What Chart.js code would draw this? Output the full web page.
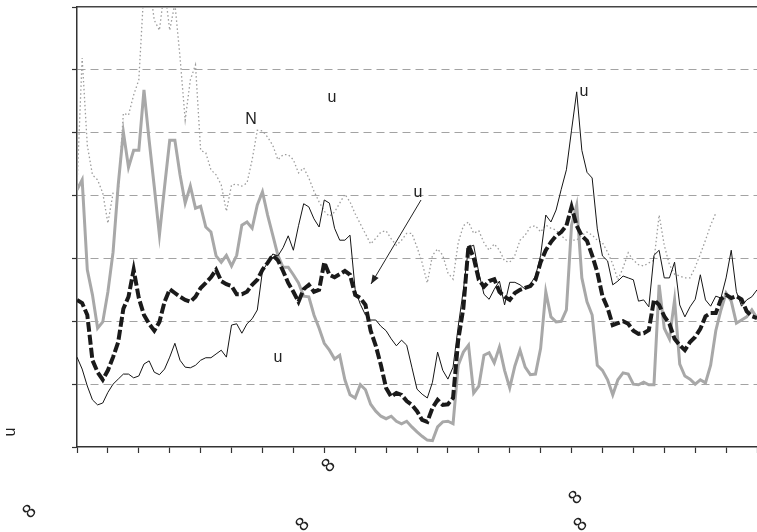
<!DOCTYPE html>
<html><head><meta charset="utf-8">
<script src="https://cdn.jsdelivr.net/npm/chart.js@4/dist/chart.umd.min.js"></script>
<style>html,body{margin:0;padding:0;background:#fff}canvas{display:block}</style>
</head><body>
<canvas id="c" width="757" height="532"></canvas>
<script>
// x positions: 6 samples per x-axis tick interval, 22 intervals
const SAMPLES_PER_TICK = 6;
const periods = Array.from({length: 133}, (_, i) => i / SAMPLES_PER_TICK);

const thinBlack = [1.43,1.24,0.97,0.75,0.67,0.70,0.87,1.00,1.08,1.16,
1.16,1.10,1.13,1.32,1.37,1.19,1.15,1.24,1.43,1.65,
1.38,1.27,1.26,1.30,1.38,1.42,1.42,1.48,1.54,1.43,
1.94,1.96,1.81,1.96,2.04,2.18,2.80,2.93,3.07,3.04,
3.17,3.36,3.13,3.52,3.87,3.82,3.63,3.50,3.93,3.88,
3.48,3.29,3.29,3.37,2.50,2.27,2.10,2.02,2.02,1.92,
1.85,1.72,1.61,1.70,1.62,1.27,0.92,0.84,0.78,1.03,
1.51,1.22,1.08,1.27,1.92,2.50,3.18,3.21,2.77,2.43,
2.35,2.51,2.64,2.26,2.62,2.62,2.58,2.51,2.59,2.72,
3.05,3.69,3.58,3.77,4.10,4.41,5.04,5.65,4.72,4.37,
4.28,3.47,3.04,2.96,2.58,2.64,2.72,2.69,2.66,2.32,
2.34,2.23,3.05,3.13,2.69,2.69,2.94,2.26,2.07,2.23,
2.35,2.74,2.34,2.24,2.40,2.37,2.69,3.13,2.47,2.24,
2.34,2.39,2.50];

const dashedBlack = [2.34,2.29,2.10,1.38,1.19,1.07,1.22,1.43,1.67,2.20,
2.39,2.82,2.37,2.10,1.96,1.85,1.99,2.31,2.51,2.45,
2.39,2.34,2.31,2.39,2.53,2.61,2.70,2.82,2.64,2.59,
2.56,2.43,2.43,2.47,2.58,2.66,2.82,2.93,3.05,2.97,
2.80,2.61,2.47,2.31,2.51,2.58,2.47,2.50,2.94,2.74,
2.70,2.75,2.80,2.74,2.42,2.37,2.26,1.85,1.61,1.30,
0.94,0.80,0.86,0.83,0.73,0.67,0.57,0.43,0.40,0.62,
0.75,0.67,0.68,0.78,1.70,2.21,3.21,3.01,2.66,2.55,
2.64,2.67,2.47,2.39,2.34,2.45,2.50,2.53,2.56,2.66,
2.94,3.13,3.26,3.36,3.42,3.52,3.82,3.52,3.36,3.28,
3.05,2.78,2.40,2.21,1.94,1.97,2.00,1.96,1.85,1.80,
1.81,1.86,2.34,2.26,2.08,1.96,1.72,1.62,1.54,1.67,
1.75,1.88,2.08,2.13,2.13,2.35,2.42,2.37,2.40,2.35,
2.16,2.08,2.05];

const grayThick = [4.09,4.25,2.82,2.42,1.89,1.99,2.47,3.10,4.17,5.01,
4.45,4.72,4.72,5.68,4.88,4.14,3.37,4.14,4.88,4.88,
4.33,3.88,4.15,3.80,3.83,3.50,3.42,3.04,2.94,3.05,
2.88,3.05,3.53,3.58,3.48,3.85,4.06,3.69,3.37,3.05,
2.86,2.86,2.74,2.61,2.40,2.39,2.10,1.89,1.65,1.54,
1.40,1.46,1.07,0.83,0.78,0.99,0.91,0.68,0.57,0.49,
0.45,0.49,0.41,0.37,0.41,0.32,0.24,0.17,0.11,0.10,
0.32,0.40,0.41,0.37,1.30,1.51,1.62,0.86,0.97,1.46,
1.50,1.34,1.59,1.22,0.94,1.29,1.54,1.27,1.15,1.16,
1.57,2.47,2.07,1.99,2.00,2.18,3.53,3.85,2.69,2.31,
2.10,1.30,1.22,1.07,0.83,1.07,1.18,1.16,1.00,0.99,
1.03,0.99,0.99,2.58,1.89,1.72,2.34,1.32,1.13,1.08,
1.00,1.07,1.02,1.30,1.85,2.18,2.45,2.32,1.97,2.02,
2.07,2.18,2.05];

const grayDotted = [4.14,6.19,4.80,4.33,4.25,4.04,3.56,4.04,4.04,5.31,
5.28,5.60,5.84,7.3,7.4,6.79,6.63,7.3,6.63,7.06,
6.20,5.20,5.84,6.08,4.72,4.68,4.41,4.33,4.17,3.75,
4.17,4.18,4.15,4.20,4.57,5.04,5.03,4.93,4.80,4.57,
4.65,4.65,4.57,4.36,4.44,4.28,4.07,3.90,3.75,3.67,
3.74,3.88,4.02,3.90,3.71,3.55,3.39,3.23,3.32,3.42,
3.44,3.31,3.21,3.29,3.40,3.40,3.18,2.93,2.61,3.05,
3.15,3.05,2.77,2.67,3.25,3.52,3.58,3.40,3.44,3.25,
3.13,3.23,3.13,2.96,2.94,3.05,3.29,3.37,3.50,3.52,
3.42,3.53,3.48,3.45,3.36,3.29,3.29,3.29,3.37,3.42,
3.37,3.29,3.25,3.10,2.91,2.66,2.85,3.09,2.97,2.90,
2.88,2.93,2.97,3.69,3.21,2.90,2.75,2.72,2.69,2.69,
2.86,3.07,3.29,3.53,3.72,null,null,null,null,null,
null,null,null];

const yTicks = [0,1,2,3,4,5,6,7];

// text found on the picture
const notes = [
  {text:'N', x:251, y:124},
  {text:'u', x:332, y:102},
  {text:'u', x:418, y:197},
  {text:'u', x:584, y:96},
  {text:'u', x:278, y:362}
];
const axisMarkText = '8';
const axisMarks = [{x:328,y:465},{x:29,y:511},{x:302,y:524},{x:575,y:497},{x:580,y:524}];
const yTitle = 'u';
const arrow = {x1:421, y1:200, x2:371, y2:284};

const FONT = '"Liberation Sans", Arial, sans-serif';

const textPlugin = {
  id: 'texts',
  afterDraw(chart) {
    const c = chart.ctx;
    c.save();
    c.fillStyle = '#222';
    c.font = '16px ' + FONT;
    c.textAlign = 'center';
    c.textBaseline = 'alphabetic';
    notes.forEach(n => c.fillText(n.text, n.x, n.y));
    // arrow
    c.strokeStyle = '#222';
    c.lineWidth = 1;
    c.beginPath();
    c.moveTo(arrow.x1, arrow.y1);
    c.lineTo(arrow.x2, arrow.y2);
    c.stroke();
    const ang = Math.atan2(arrow.y2 - arrow.y1, arrow.x2 - arrow.x1);
    const L = 9, W = 3.5;
    c.beginPath();
    c.moveTo(arrow.x2, arrow.y2);
    c.lineTo(arrow.x2 - L*Math.cos(ang) + W*Math.sin(ang), arrow.y2 - L*Math.sin(ang) - W*Math.cos(ang));
    c.lineTo(arrow.x2 - L*Math.cos(ang) - W*Math.sin(ang), arrow.y2 - L*Math.sin(ang) + W*Math.cos(ang));
    c.closePath();
    c.fill();
    // y title
    c.save();
    c.translate(15, 432);
    c.rotate(-Math.PI/2);
    c.fillText(yTitle, 0, 0);
    c.restore();
    // rotated axis marks
    c.font = '19px ' + FONT;
    c.textBaseline = 'middle';
    axisMarks.forEach(m => {
      c.save();
      c.translate(m.x, m.y);
      c.rotate(-Math.PI/4);
      c.fillText(axisMarkText, 0, 1);
      c.restore();
    });
    c.restore();
  }
};

const toPoints = arr => arr.map((v, i) => ({x: periods[i], y: v}));

new Chart(document.getElementById('c'), {
  type: 'line',
  data: {
    datasets: [
      {data: toPoints(thinBlack), borderColor:'#151515', borderWidth:1, pointRadius:0, tension:0, fill:false},
      {data: toPoints(dashedBlack), borderColor:'#1a1a1a', borderWidth:4, borderDash:[10,3], pointRadius:0, tension:0, fill:false},
      {data: toPoints(grayThick), borderColor:'#a8a8a8', borderWidth:3, pointRadius:0, tension:0, fill:false},
      {data: toPoints(grayDotted), borderColor:'#9c9c9c', borderWidth:1.3, borderDash:[1.5,2.5], pointRadius:0, tension:0, fill:false, spanGaps:false}
    ]
  },
  options: {
    responsive:false, animation:false, devicePixelRatio:1,
    layout:{padding:{top:7, left:0, right:0, bottom:0}},
    plugins:{legend:{display:false}, tooltip:{enabled:false}},
    scales:{
      x:{type:'linear', position:'bottom', min:0, max:22,
         ticks:{stepSize:1, maxTicksLimit:100, display:false},
         grid:{drawOnChartArea:false, drawTicks:true, tickLength:6, tickColor:'#333', tickWidth:1.2},
         border:{color:'#333', width:1.5},
         afterFit:s=>{s.height=85;}},
      xTop:{type:'linear', position:'top', min:0, max:22,
         ticks:{display:false}, grid:{display:false, drawTicks:false},
         border:{color:'#444', width:1.5},
         afterFit:s=>{s.height=0;}},
      y:{type:'linear', min:yTicks[0], max:yTicks[yTicks.length-1],
         ticks:{stepSize:1, display:false},
         grid:{color: c => (c.tick && (c.tick.value===0 || c.tick.value===7)) ? 'rgba(0,0,0,0)' : '#a3a3a3',
               lineWidth:1, tickLength:5, tickColor:'#333', tickWidth:1.2},
         border:{color:'#333', width:1.5, dash:[8,5]},
         afterFit:s=>{s.width=77;}}
    }
  },
  plugins:[textPlugin]
});
</script></body></html>
